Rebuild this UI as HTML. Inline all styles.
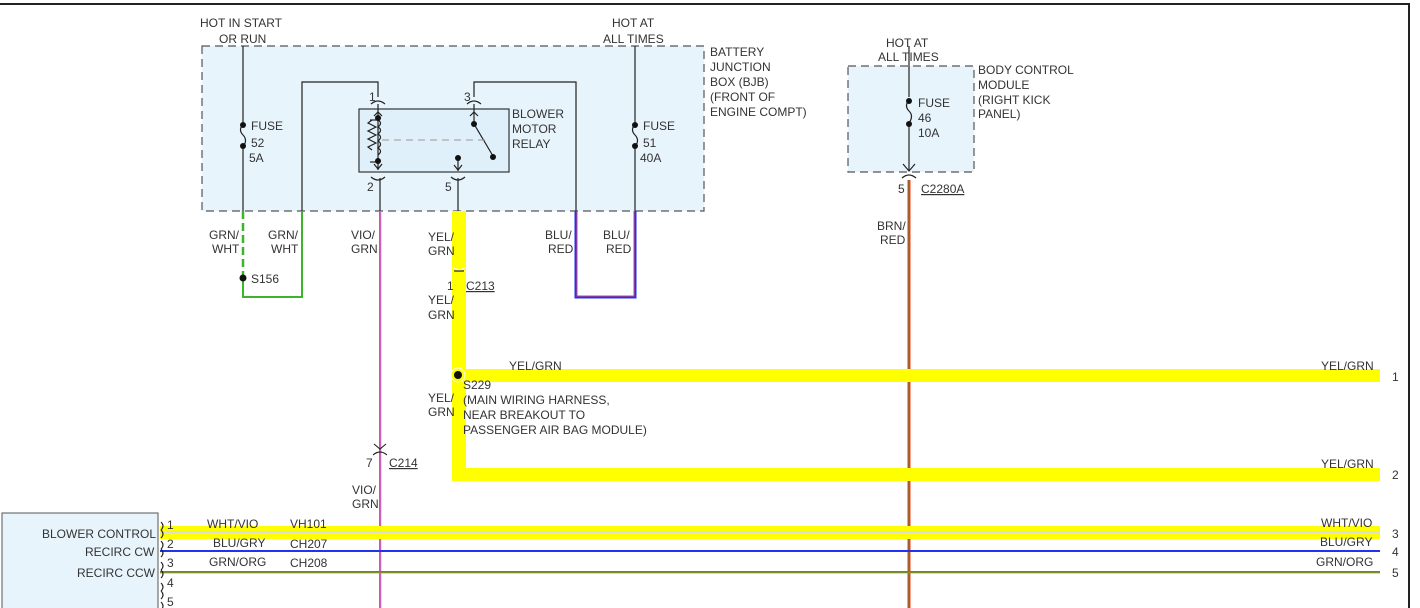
<!DOCTYPE html>
<html><head><style>
body{margin:0;background:#fff;}
svg{display:block;font-family:"Liberation Sans",sans-serif;font-size:12px;fill:#333;}
text{fill:#333;}
</style></head><body>
<svg width="1420" height="608" viewBox="0 0 1420 608">
<line x1="0" y1="4" x2="1410" y2="4" stroke="#222" stroke-width="2"/>
<line x1="1409" y1="4" x2="1409" y2="608" stroke="#222" stroke-width="2"/>
<!-- BJB -->
<rect x="202" y="46" width="502" height="165" fill="#e8f4fc" stroke="#555" stroke-width="1.2" stroke-dasharray="8,5"/>
<rect x="848" y="66" width="126" height="106" fill="#e8f4fc" stroke="#555" stroke-width="1.2" stroke-dasharray="8,5"/>
<rect x="2" y="513" width="156" height="100" fill="#e8f4fc" stroke="#555" stroke-width="1"/>
<!-- relay box -->
<rect x="359" y="109" width="150" height="63" fill="#e0f0fa" stroke="#333" stroke-width="1.2"/>
<g stroke="#222" stroke-width="1.2" fill="none">
<line x1="243" y1="46" x2="243" y2="122"/><line x1="243" y1="148" x2="243" y2="211"/>
<path d="M243 124 q-5 6 0 11 q5 5 0 12"/>
<line x1="635" y1="46" x2="635" y2="122"/><line x1="635" y1="148" x2="635" y2="211"/>
<path d="M635 124 q-5 6 0 11 q5 5 0 12"/>
<line x1="909" y1="46" x2="909" y2="97"/><line x1="909" y1="126" x2="909" y2="170"/>
<path d="M909 100 q-5 6 0 11 q5 5 0 12"/>
<path d="M903 164 L909 171 L915 164"/><path d="M902 178 q7 -6 14 0"/>
<polyline points="302,211 302,82 378,82 378,97"/>
<polyline points="474,97 474,82 576,82 576,211"/>
<path d="M371 104 q7 -6 14 0"/><path d="M467 104 q7 -6 14 0"/>
<line x1="378" y1="104" x2="378" y2="170"/><path d="M374 116 L378 112 L382 116"/>
<line x1="474" y1="104" x2="474" y2="124"/><path d="M470 116 L474 112 L478 116"/>
<line x1="474" y1="124" x2="493" y2="156"/>
<path d="M374 164 L378 169 L382 164"/>
<path d="M371 177 q7 6 14 0"/><line x1="380" y1="178" x2="380" y2="211"/>
<line x1="458" y1="158" x2="458" y2="171"/><path d="M454 165 L458 170 L462 165"/>
<path d="M451 177 q7 6 14 0"/><line x1="458" y1="178" x2="458" y2="211"/>
<path d="M372 120 l-4 3 l8 4 l-8 4 l8 4 l-8 4 l8 4 l-8 4 l4 3"/>
<path d="M378 120 q5 3 0 7 q5 3 0 7 q5 3 0 7 q5 3 0 7 q5 3 0 7"/>
<line x1="370" y1="120" x2="378" y2="120"/><line x1="370" y1="162" x2="378" y2="162"/>
</g>
<line x1="382" y1="140" x2="490" y2="140" stroke="#999" stroke-width="1" stroke-dasharray="7,5"/>
<g fill="#111">
<circle cx="243" cy="125" r="3"/><circle cx="243" cy="146" r="3"/>
<circle cx="635" cy="125" r="3"/><circle cx="635" cy="146" r="3"/>
<circle cx="909" cy="101" r="3"/><circle cx="909" cy="124" r="3"/>
<circle cx="378" cy="118" r="3"/><circle cx="378" cy="161" r="3"/>
<circle cx="474" cy="124" r="3"/><circle cx="493" cy="157" r="3"/><circle cx="458" cy="158" r="3"/>
</g>
<!-- wires -->
<line x1="243" y1="211" x2="243" y2="278" stroke="#3bb52a" stroke-width="2.5" stroke-dasharray="8,4"/>
<polyline points="243,278 243,297 302,297 302,211" fill="none" stroke="#3bb52a" stroke-width="2"/>
<circle cx="243" cy="278" r="3.5" fill="#111"/>
<line x1="380" y1="211" x2="380" y2="608" stroke="#ff33dd" stroke-width="2"/>
<line x1="381" y1="211" x2="381" y2="608" stroke="#6c6" stroke-width="0.6"/>
<polyline points="576,211 576,297 635,297 635,211" fill="none" stroke="#2233ee" stroke-width="3"/>
<polyline points="577,211 577,296 634,296 634,211" fill="none" stroke="#e04060" stroke-width="1"/>
<line x1="909" y1="180" x2="909" y2="608" stroke="#a0602a" stroke-width="3"/>
<line x1="910" y1="180" x2="910" y2="608" stroke="#f04020" stroke-width="1"/>
<g fill="#ffff00">
<rect x="452" y="211" width="14" height="270"/>
<rect x="452" y="468" width="928" height="13"/>
<rect x="458" y="369" width="922" height="13"/>
<rect x="160" y="526" width="1220" height="13"/>
</g>
<circle cx="458" cy="375" r="7" fill="#ffff00" stroke="#fff" stroke-width="1"/>
<circle cx="458" cy="375" r="4" fill="#111"/>
<line x1="160" y1="532.5" x2="1380" y2="532.5" stroke="#ddd" stroke-width="3"/>
<line x1="160" y1="551" x2="1380" y2="551" stroke="#2233ee" stroke-width="2"/>
<line x1="160" y1="572" x2="1380" y2="572" stroke="#4a9a20" stroke-width="2"/>
<line x1="160" y1="573" x2="1380" y2="573" stroke="#d08040" stroke-width="0.8"/>
<!-- connectors -->
<path d="M453 268 q6 3 12 0 M453 272 q6 -3 12 0" stroke="#fff" fill="none" stroke-width="1"/>
<line x1="454" y1="271" x2="464" y2="271" stroke="#222" stroke-width="1.2"/>
<g stroke="#222" fill="none" stroke-width="1.1">
<path d="M374 444 L380 449 L386 444"/><path d="M373 455 q7 -6 14 0"/>
<path d="M161 522 q4 4 0 8 M161 530 q4 4 0 8"/>
<path d="M161 541 q4 4 0 8 M161 549 q4 4 0 8"/>
<path d="M161 562 q4 4 0 8 M161 570 q4 4 0 8"/>
<path d="M161 583 q4 4 0 8 M161 591 q4 4 0 8"/>
<path d="M161 602 q4 4 0 8"/>
</g>
<!-- texts -->
<text x="200" y="27">HOT IN START</text><text x="219" y="43">OR RUN</text>
<text x="612" y="27">HOT AT</text><text x="603" y="43">ALL TIMES</text>
<text x="710" y="56">BATTERY</text><text x="710" y="71">JUNCTION</text><text x="710" y="86">BOX (BJB)</text><text x="710" y="101">(FRONT OF</text><text x="710" y="116">ENGINE COMPT)</text>
<text x="251" y="130">FUSE</text><text x="251" y="147">52</text><text x="249" y="162">5A</text>
<text x="643" y="130">FUSE</text><text x="643" y="147">51</text><text x="640" y="162">40A</text>
<text x="512" y="118">BLOWER</text><text x="512" y="133">MOTOR</text><text x="512" y="148">RELAY</text>
<text x="369" y="101">1</text><text x="464" y="101">3</text><text x="367" y="191">2</text><text x="445" y="191">5</text>
<text x="886" y="47">HOT AT</text><text x="878" y="61">ALL TIMES</text>
<text x="978" y="74">BODY CONTROL</text><text x="978" y="89">MODULE</text><text x="978" y="104">(RIGHT KICK</text><text x="978" y="118">PANEL)</text>
<text x="918" y="107">FUSE</text><text x="918" y="122">46</text><text x="918" y="137">10A</text>
<text x="898" y="193">5</text><text x="921" y="193" text-decoration="underline">C2280A</text>
<text x="877" y="230">BRN/</text><text x="880" y="244">RED</text>
<text x="209" y="239">GRN/</text><text x="212" y="253">WHT</text>
<text x="268" y="239">GRN/</text><text x="271" y="253">WHT</text>
<text x="351" y="239">VIO/</text><text x="351" y="253">GRN</text>
<text x="428" y="241">YEL/</text><text x="428" y="255">GRN</text>
<text x="545" y="239">BLU/</text><text x="548" y="253">RED</text>
<text x="603" y="239">BLU/</text><text x="606" y="253">RED</text>
<text x="251" y="283">S156</text>
<text x="447" y="290">1</text><text x="466" y="290" text-decoration="underline">C213</text>
<text x="428" y="304">YEL/</text><text x="428" y="319">GRN</text>
<text x="509" y="370">YEL/GRN</text>
<text x="463" y="389">S229</text><text x="463" y="404">(MAIN WIRING HARNESS,</text><text x="463" y="419">NEAR BREAKOUT TO</text><text x="463" y="434">PASSENGER AIR BAG MODULE)</text>
<text x="428" y="402">YEL/</text><text x="428" y="416">GRN</text>
<text x="366" y="467">7</text><text x="389" y="467" text-decoration="underline">C214</text>
<text x="352" y="494">VIO/</text><text x="352" y="508">GRN</text>
<text x="1321" y="370">YEL/GRN</text><text x="1321" y="468">YEL/GRN</text>
<text x="1321" y="527">WHT/VIO</text><text x="1320" y="546">BLU/GRY</text><text x="1316" y="566">GRN/ORG</text>
<text x="1392" y="381">1</text><text x="1392" y="479">2</text><text x="1392" y="538">3</text><text x="1392" y="556">4</text><text x="1392" y="577">5</text>
<text x="42" y="538">BLOWER CONTROL</text><text x="85" y="556">RECIRC CW</text><text x="77" y="577">RECIRC CCW</text>
<text x="167" y="529">1</text><text x="167" y="548">2</text><text x="167" y="567">3</text><text x="167" y="587">4</text><text x="167" y="606">5</text>
<text x="207" y="528">WHT/VIO</text><text x="290" y="528">VH101</text>
<text x="213" y="547">BLU/GRY</text><text x="290" y="548">CH207</text>
<text x="209" y="566">GRN/ORG</text><text x="290" y="567">CH208</text>
</svg>
</body></html>
